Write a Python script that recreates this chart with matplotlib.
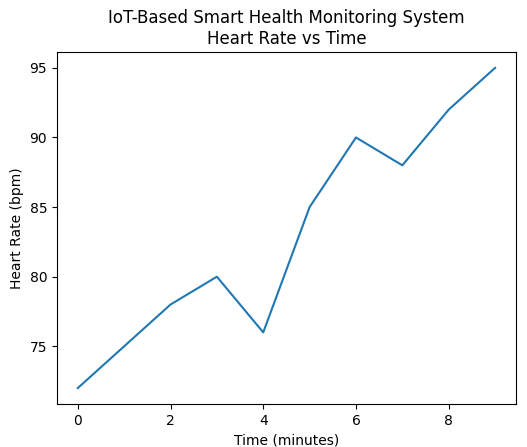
import matplotlib
matplotlib.use("Agg")
import matplotlib.pyplot as plt

# data
time_min = [0, 1, 2, 3, 4, 5, 6, 7, 8, 9]
heart_rate = [72, 75, 78, 80, 76, 85, 90, 88, 92, 95]

fig = plt.figure(figsize=(5.27, 4.47), dpi=100)
ax = fig.add_axes([0.108, 0.096, 0.871, 0.788])

ax.plot(time_min, heart_rate)
ax.set_title("IoT-Based Smart Health Monitoring System\nHeart Rate vs Time")
ax.set_xlabel("Time (minutes)")
ax.set_ylabel("Heart Rate (bpm)")

fig.savefig("out.png", dpi=100)
